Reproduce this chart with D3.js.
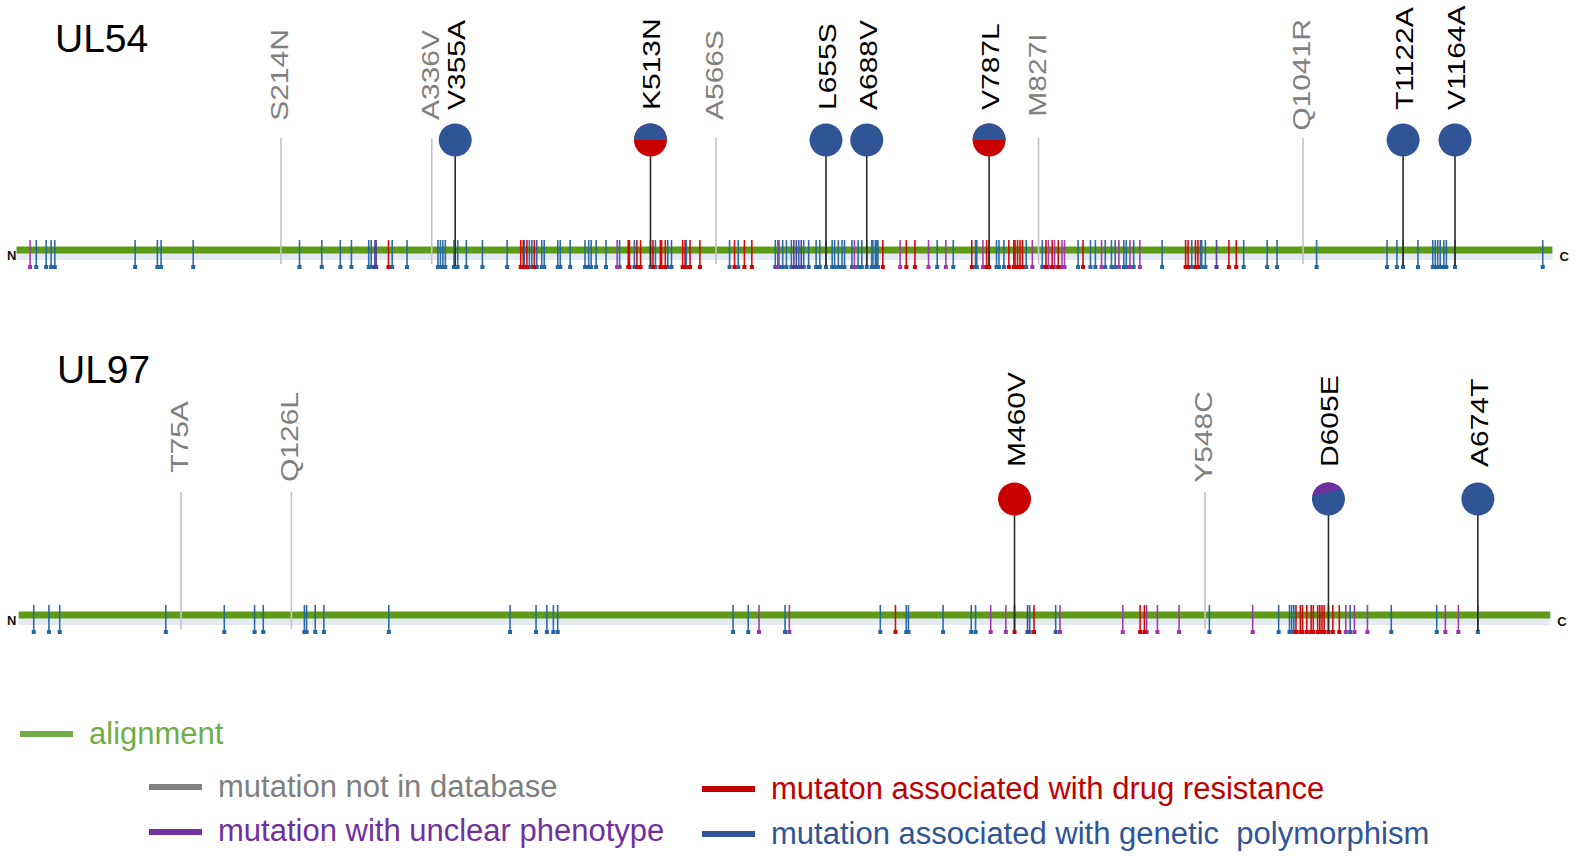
<!DOCTYPE html>
<html><head><meta charset="utf-8">
<script src="https://cdn.jsdelivr.net/npm/d3@7"></script>
<style>
html,body{margin:0;padding:0;background:#fff;}
svg{display:block;font-family:"Liberation Sans",Arial,Helvetica,sans-serif;}
</style>
</head><body>
<svg id="chart" width="1580" height="856"></svg>
<script>
// ---------------- DATA ----------------
const ul54Length = 1242;
const ul97Length = 707;

// small variant ticks along the alignment (amino-acid positions)
const ul54Poly = [16,24,28,31,96,114,117,143,229,247,262,271,285,287,304,316,341,343,345,347,354,357,364,377,397,411,415,417,421,425,427,438,440,448,460,463,465,469,477,488,500,513,517,527,530,542,577,584,614,617,620,623,627,633,637,641,647,650,655,660,662,665,668,670,676,681,684,688,692,693,695,696,697,745,758,776,777,793,795,799,817,830,859,869,873,881,886,889,896,898,904,927,951,958,959,962,993,1012,1020,1052,1109,1117,1122,1134,1146,1148,1150,1152,1155,1157,1164,1235];
const ul54Drug = [301,408,410,413,419,495,496,502,505,515,521,522,525,539,541,545,553,581,589,595,701,720,727,773,785,787,803,807,808,810,812,814,833,838,843,863,946,948,954,956,981,987];
const ul54Unclear = [11,486,616,678,715,738,752,782,822,835,840,846,848,878,892,901,909];
const ul54Mixed = [290,291,629,631,635,971];

const ul97Poly = [7,14,19,68,95,109,113,132,133,137,141,171,227,239,244,247,249,330,337,354,398,410,411,427,440,442,467,479,550,582,587,588,589,615,634,655,674];
const ul97Drug = [405,460,469,518,520,590,592,593,595,597,598,600,601,602,603,605,607,610];
const ul97Unclear = [342,356,449,456,481,510,521,526,536,570,613,617,623,659,665];
const ul97Mixed = [466];

// highlighted mutations (lollipops): label, position, phenotype classes (top -> bottom)
const ul54Known = [
  {label:"V355A", pos:355, classes:["poly"]},
  {label:"K513N", pos:513, classes:["poly","drug"]},
  {label:"L655S", pos:655, classes:["poly"]},
  {label:"A688V", pos:688, classes:["poly"]},
  {label:"V787L", pos:787, classes:["poly","drug"]},
  {label:"T1122A", pos:1122, classes:["poly"]},
  {label:"V1164A", pos:1164, classes:["poly"]}
];
const ul54Novel = [
  {label:"S214N", pos:214},
  {label:"A336V", pos:336},
  {label:"A566S", pos:566},
  {label:"M827I", pos:827},
  {label:"Q1041R", pos:1041}
];
const ul97Known = [
  {label:"M460V", pos:460, classes:["drug"]},
  {label:"D605E", pos:605, classes:["unclear","poly"]},
  {label:"A674T", pos:674, classes:["poly"]}
];
const ul97Novel = [
  {label:"T75A", pos:75},
  {label:"Q126L", pos:126},
  {label:"Y548C", pos:548}
];

const legendItems = [
  {key:"align",   text:"alignment"},
  {key:"novel",   text:"mutation not in database"},
  {key:"unclear", text:"mutation with unclear phenotype"},
  {key:"drug",    text:"mutaton associated with drug resistance"},
  {key:"poly",    text:"mutation associated with genetic  polymorphism"}
];

// ---------------- STYLE ----------------
const tickColor = {poly:"#2466a4", drug:"#d30000", unclear:"#a133ad", mixed:"#4a3d9b"};
const circleColor = {poly:"#2f5597", drug:"#c80000", unclear:"#7030a0"};
const legendColor = {align:"#70ad47", novel:"#7f7f7f", unclear:"#7030a0", drug:"#c00000", poly:"#2f5597"};

const svg = d3.select("#chart");

const tracks = [
  {name:"UL54", length:ul54Length, range:[16.5,1551.4], base:250, circleY:140, lineTop:138, labelStart:110, novelMid:75, titleY:52, titleX:55,
   ticks:{poly:ul54Poly, drug:ul54Drug, unclear:ul54Unclear, mixed:ul54Mixed}, known:ul54Known, novel:ul54Novel},
  {name:"UL97", length:ul97Length, range:[18.6,1549.3], base:615, circleY:499, lineTop:492, labelStart:467, novelMid:437, titleY:383, titleX:57,
   ticks:{poly:ul97Poly, drug:ul97Drug, unclear:ul97Unclear, mixed:ul97Mixed}, known:ul97Known, novel:ul97Novel}
];

const defs = svg.append("defs");
let clipId = 0;

tracks.forEach(t => {
  const x = d3.scaleLinear().domain([0, t.length]).range(t.range);
  const g = svg.append("g").attr("class", "track-" + t.name);
  const b = t.base;

  // title
  g.append("text").attr("x", t.titleX).attr("y", t.titleY)
    .attr("font-size", 39).attr("fill", "#000").text(t.name);

  // light band and alignment bar
  g.append("rect").attr("x", x(0)).attr("y", b + 3).attr("width", x(t.length) - x(0) + 1).attr("height", 7)
    .attr("fill", "#e3eaf2");
  g.append("rect").attr("x", x(0)).attr("y", b - 3.5).attr("width", x(t.length) - x(0) + 1).attr("height", 7)
    .attr("fill", "#5e9b17");

  // N / C termini
  g.append("text").attr("x", 7).attr("y", b + 10).attr("font-size", 13).attr("font-weight", "bold").attr("fill", "#111").text("N");
  g.append("text").attr("x", x(t.length) + 8).attr("y", b + 11).attr("font-size", 13).attr("font-weight", "bold").attr("fill", "#111").text("C");

  // novel mutation grey lines
  g.selectAll("line.novel").data(t.novel).join("line").attr("class", "novel")
    .attr("x1", d => x(d.pos)).attr("x2", d => x(d.pos))
    .attr("y1", t.lineTop).attr("y2", b + 14)
    .attr("stroke", "#c4c4c4").attr("stroke-width", 1.6);

  // variant ticks
  ["poly","unclear","drug","mixed"].forEach(k => {
    const data = t.ticks[k];
    g.selectAll("line.tick-" + k).data(data).join("line").attr("class", "tick-" + k)
      .attr("x1", d => x(d)).attr("x2", d => x(d))
      .attr("y1", b - 10).attr("y2", b + 17)
      .attr("stroke", tickColor[k]).attr("stroke-width", 1.6).attr("opacity", 0.95);
    g.selectAll("rect.tick-" + k).data(data).join("rect").attr("class", "tick-" + k)
      .attr("x", d => x(d) - 2).attr("y", b + 15).attr("width", 4).attr("height", 4)
      .attr("fill", tickColor[k]);
  });

  // lollipop stems
  g.selectAll("line.stem").data(t.known).join("line").attr("class", "stem")
    .attr("x1", d => x(d.pos)).attr("x2", d => x(d.pos))
    .attr("y1", t.circleY).attr("y2", b + 16)
    .attr("stroke", "#2b2b2b").attr("stroke-width", 1.6);

  // lollipop heads
  const r = 16.5;
  t.known.forEach(d => {
    const cx = x(d.pos), cy = t.circleY;
    const cls = d.classes;
    g.append("circle").attr("cx", cx).attr("cy", cy).attr("r", r)
      .attr("fill", circleColor[cls[cls.length - 1]]);
    if (cls.length > 1) {
      const id = "clip" + (clipId++);
      const cp = defs.append("clipPath").attr("id", id);
      if (cls[0] === "unclear") {
        cp.append("polygon").attr("points",
          `${cx - r - 1},${cy - r - 1} ${cx + r + 1},${cy - r - 1} ${cx + r + 1},${cy - 11} ${cx - r - 1},${cy - 3}`);
      } else {
        cp.append("rect").attr("x", cx - r - 1).attr("y", cy - r - 1).attr("width", 2 * r + 2).attr("height", r + 1);
      }
      g.append("circle").attr("cx", cx).attr("cy", cy).attr("r", r)
        .attr("fill", circleColor[cls[0]]).attr("clip-path", `url(#${id})`);
    }
  });

  // labels (rotated)
  g.selectAll("text.known").data(t.known).join("text").attr("class", "known")
    .attr("transform", d => `translate(${x(d.pos) + 10},${t.labelStart}) rotate(-90) scale(1,0.82)`)
    .attr("font-size", 30).attr("fill", "#000").text(d => d.label);
  g.selectAll("text.novel").data(t.novel).join("text").attr("class", "novel")
    .attr("transform", d => `translate(${x(d.pos) + 7},${t.novelMid}) rotate(-90) scale(1,0.82)`)
    .attr("text-anchor", "middle")
    .attr("font-size", 30).attr("fill", "#808080").text(d => d.label);
});

// ---------------- LEGEND ----------------
const legendPos = {
  align:   {lx:20,  ly:734, tx:89,  ty:744},
  novel:   {lx:149, ly:787, tx:218, ty:797},
  unclear: {lx:149, ly:832, tx:218, ty:841},
  drug:    {lx:702, ly:789, tx:771, ty:799},
  poly:    {lx:702, ly:834, tx:771, ty:844}
};
const lg = svg.append("g").attr("class", "legend");
legendItems.forEach(it => {
  const p = legendPos[it.key];
  lg.append("line").attr("x1", p.lx).attr("x2", p.lx + 53).attr("y1", p.ly).attr("y2", p.ly)
    .attr("stroke", legendColor[it.key]).attr("stroke-width", 6);
  lg.append("text").attr("x", p.tx).attr("y", p.ty).attr("font-size", 31)
    .attr("fill", legendColor[it.key]).style("white-space", "pre").text(it.text);
});
</script>
</body></html>
